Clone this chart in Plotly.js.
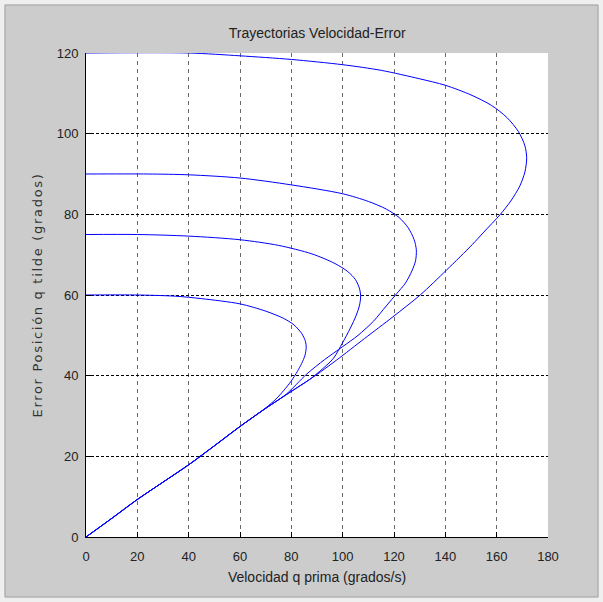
<!DOCTYPE html>
<html>
<head>
<meta charset="utf-8">
<script src="https://cdn.plot.ly/plotly-3.0.1.min.js"></script>
<style>
html,body{margin:0;padding:0;background:#cccccc;}
#chart{width:603px;height:602px;}
.ytitle{letter-spacing:1.7px;}
</style>
</head>
<body>
<div id="chart"></div>
<script>
// Trajectory starting at error = 120
var vel120 = [0,40,60,80,100,115,130,140,150,158,164,168.5,171,171.7,171,169,165.5,161.3,155,150.5,140.5,130.2,119.6,108.5,97.7,89.3,80,70,60,50,40,30,20,10,0];
var err120 = [120,120,119.3,118.4,117.1,115.7,113.6,112.0,109.6,107,104,100.5,97,94,90.5,87,83.3,79.9,75.6,72.5,66.2,60,54.6,49.2,43.9,40,36.1,31.9,27.4,22.6,17.9,13.6,9.3,4.6,0];
// Trajectory starting at error = 90
var vel90 = [0,24,40,60,80,100,110,117,122,125.5,127.8,128.7,128.4,127,124.5,121,117,112,106,100,93,86,78,70,60,50,40,30,20,10,0];
var err90 = [90,90,89.8,89.0,87.3,85.1,83.2,81.3,79.2,76.7,73.8,71.2,68.5,66,63,60.3,57.3,53.5,50,47.2,44,40.4,35.4,31.9,27.4,22.6,17.9,13.6,9.3,4.6,0];
// Trajectory starting at error = 75
var vel75 = [0,20,40,60,75,88,97,102,105,106.6,107,106.5,105.3,103,100,96.4,92,87,80,70,60,50,40,30,20,10,0];
var err75 = [75,75,74.6,73.7,72.3,70.2,67.8,65.8,63.8,61.5,59.5,57.3,55,51.8,48.2,44.3,41.6,39,36.1,31.9,27.4,22.6,17.9,13.6,9.3,4.6,0];
// Trajectory starting at error = 60
var vel60 = [0,20,35,45,60,70,77,81,84,85.5,85.8,85.3,84,82.3,80,77,74,70,60,50,40,30,20,10,0];
var err60 = [60,60,59.7,59.1,57.8,56.0,54.2,52.6,50.5,48.5,47,45,43,41,38.7,36.3,34.2,32.0,27.4,22.6,17.9,13.6,9.3,4.6,0];

var xTicks = [0,20,40,60,80,100,120,140,160,180];
var yTicks = [0,20,40,60,80,100,120];

function tr(x, y) {
  return {x: x, y: y, type: 'scatter', mode: 'lines',
          line: {color: '#0000ff', width: 1, shape: 'spline', smoothing: 0.8},
          hoverinfo: 'skip', showlegend: false};
}
var data = [tr(vel120, err120), tr(vel90, err90), tr(vel75, err75), tr(vel60, err60)];

var sans = 'Liberation Sans, Arial, sans-serif';
var tickFont = {family: sans, size: 13, color: '#222222'};
var axCommon = {
  showgrid: true, gridwidth: 1,
  showline: true, linecolor: '#000000', linewidth: 1, mirror: false,
  ticks: 'inside', ticklen: 5, tickcolor: '#000000', zeroline: false,
  tickfont: tickFont
};
// plot-area pixel geometry for frame shapes
var L = 86, T = 53, W = 462, H = 484;
function px(xp) { return (xp - L) / W; }
function py(yp) { return (T + H - yp) / H; }

var layout = {
  width: 603, height: 602,
  paper_bgcolor: '#cccccc', plot_bgcolor: '#ffffff',
  margin: {l: 86, r: 55, t: 53, b: 65},
  title: {text: 'Trayectorias Velocidad-Error', x: 0.526, xanchor: 'center', y: 0.945, yanchor: 'middle',
          font: {family: sans, size: 14, color: '#222222'}},
  xaxis: Object.assign({}, axCommon, {
    range: [0, 180], tickvals: xTicks, ticktext: xTicks.map(String),
    gridcolor: '#6a6a6a', griddash: '4px,4px',
    ticklabelstandoff: 7,
    title: {text: 'Velocidad q prima (grados/s)', standoff: 9,
            font: {family: sans, size: 14, color: '#222222'}}
  }),
  yaxis: Object.assign({}, axCommon, {
    range: [0, 120], tickvals: yTicks, ticktext: yTicks.map(String),
    gridcolor: '#000000', griddash: '3px,2px',
    ticklabelstandoff: 4,
    title: {text: 'Error Posición q tilde (grados)', standoff: 11,
            font: {family: 'DejaVu Sans, sans-serif', size: 13, color: '#333333'}}
  }),
  shapes: [
    {type: 'rect', xref: 'paper', yref: 'paper', layer: 'above',
     x0: px(2), x1: px(601), y0: py(600), y1: py(2),
     line: {color: '#efefef', width: 5}},
    {type: 'rect', xref: 'paper', yref: 'paper', layer: 'above',
     x0: px(5), x1: px(598), y0: py(597), y1: py(5),
     line: {color: '#a4a4a4', width: 1}}
  ]
};
Plotly.newPlot('chart', data, layout, {staticPlot: true, displayModeBar: false});
</script>
</body>
</html>
